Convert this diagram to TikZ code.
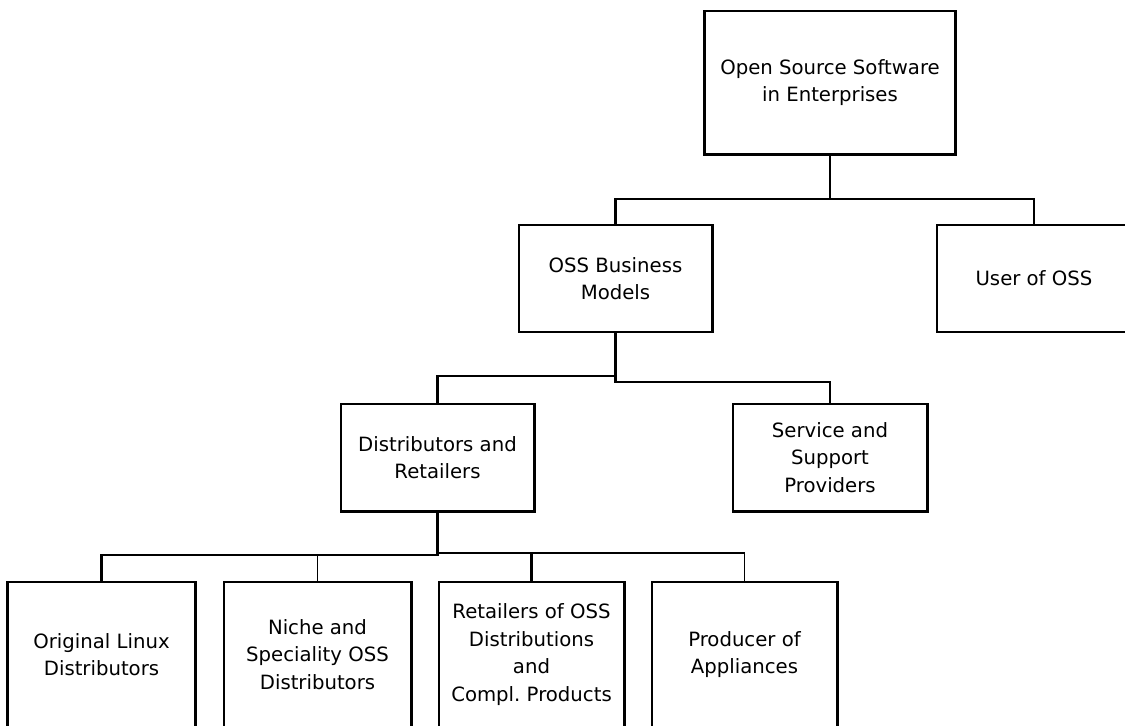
\documentclass[tikz,border=0pt]{standalone}
\usepackage{fontspec}
\setmainfont{DejaVu Sans}
\begin{document}
\begin{tikzpicture}[x=0.025cm, y=-0.025cm,
    box/.style={draw, line width=2.1pt, inner sep=0pt, align=center,
        font=\fontsize{14}{19.5}\selectfont},
    link/.style={line width=2.1pt},
    thinlink/.style={line width=0.9pt}]
    \useasboundingbox (0,0) rectangle (1125,725);
    % boxes
    \node[box, minimum width=6.25cm, minimum height=3.575cm] (oss) at (830,82.5) {Open Source Software\\in Enterprises};
    \node[box, minimum width=4.825cm, minimum height=2.675cm] (models) at (615.5,278.5) {OSS Business\\Models};
    \node[box, minimum width=4.85cm, minimum height=2.675cm] (users) at (1034,278.5) {User of OSS};
    \node[box, minimum width=4.825cm, minimum height=2.675cm] (distr) at (437.5,457.5) {Distributors and\\Retailers};
    \node[box, minimum width=4.85cm, minimum height=2.675cm] (service) at (830,457.5) {Service and\\Support\\Providers};
    \node[box, minimum width=4.675cm, minimum height=3.625cm] (linux) at (101.5,654.5) {Original Linux\\Distributors};
    \node[box, minimum width=4.675cm, minimum height=3.625cm] (niche) at (317.5,654.5) {Niche and\\Speciality OSS\\Distributors};
    \node[box, minimum width=4.625cm, minimum height=3.625cm] (retail) at (531.5,654.5) {Retailers of OSS\\Distributions\\and\\Compl.\ Products};
    \node[box, minimum width=4.625cm, minimum height=3.625cm] (appl) at (744.5,654.5) {Producer of\\Appliances};
    % connectors
    \coordinate (busA) at (830,199);
    \coordinate (busB) at (615.5,376);
    \coordinate (busC) at (615.5,382);
    \coordinate (busD) at (437.5,555);
    \coordinate (busE) at (437.5,553);
    \coordinate (busF) at (531.5,553);
    \draw[link] (oss) -- (busA) -| (models);
    \draw[link] (busA) -| (users);
    \draw[link] (models) -- (busC) -| (service);
    \draw[link] (busB) -| (distr);
    \draw[link] (distr) -- (busD) -| (linux);
    \draw[link] (busE) -| (retail);
    \draw[thinlink] (niche.north) -- (niche.north |- busD);
    \draw[thinlink] (busF) -| (appl);
\end{tikzpicture}
\end{document}
